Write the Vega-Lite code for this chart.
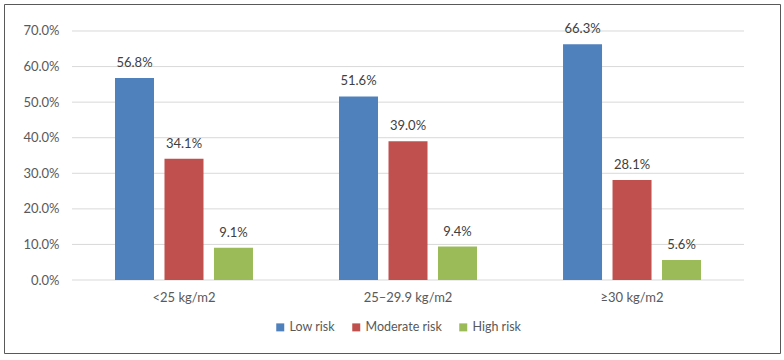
{
  "$schema": "https://vega.github.io/schema/vega-lite/v6.json",
  "width": 776,
  "height": 349,
  "autosize": {"type": "none"},
  "padding": {"left": 4, "top": 4, "right": 4, "bottom": 7},
  "background": "white",
  "view": {"stroke": "#595959", "strokeWidth": 1},
  "config": {
    "font": "Lato",
    "axis": {"labelFont": "Lato", "labelFontSize": 13, "labelColor": "#595959"},
    "legend": {"labelFont": "Lato", "labelFontSize": 12.5, "labelColor": "#595959"}
  },
  "datasets": {
    "bars": [
      {"bmi": "<25 kg/m2", "risk": "Low risk", "value": 0.568},
      {"bmi": "<25 kg/m2", "risk": "Moderate risk", "value": 0.341},
      {"bmi": "<25 kg/m2", "risk": "High risk", "value": 0.091},
      {"bmi": "25–29.9 kg/m2", "risk": "Low risk", "value": 0.516},
      {"bmi": "25–29.9 kg/m2", "risk": "Moderate risk", "value": 0.390},
      {"bmi": "25–29.9 kg/m2", "risk": "High risk", "value": 0.094},
      {"bmi": "≥30 kg/m2", "risk": "Low risk", "value": 0.663},
      {"bmi": "≥30 kg/m2", "risk": "Moderate risk", "value": 0.281},
      {"bmi": "≥30 kg/m2", "risk": "High risk", "value": 0.056}
    ],
    "grid": [
      {"tick": 0}, {"tick": 0.1}, {"tick": 0.2}, {"tick": 0.3},
      {"tick": 0.4}, {"tick": 0.5}, {"tick": 0.6}, {"tick": 0.7}
    ]
  },
  "layer": [
    {
      "data": {"name": "grid"},
      "mark": {"type": "rule", "color": "#D9D9D9", "strokeWidth": 1},
      "encoding": {
        "y": {
          "field": "tick", "type": "quantitative",
          "axis": {"title": null, "orient": "left", "offset": -68, "values": [0, 0.1, 0.2, 0.3, 0.4, 0.5, 0.6, 0.7], "format": ".1%", "grid": false, "domain": false, "ticks": false, "labelPadding": 13}
        },
        "x": {
          "datum": "<25 kg/m2", "type": "nominal", "bandPosition": 0,
          "axis": {"title": null, "orient": "bottom", "offset": -73, "domain": false, "ticks": false, "labelPadding": 11, "labelAngle": 0, "bandPosition": 0.5, "labelAlign": "center"}
        },
        "x2": {"datum": "≥30 kg/m2", "bandPosition": 1}
      }
    },
    {
      "data": {"name": "bars"},
      "encoding": {
        "x": {
          "field": "bmi", "type": "nominal",
          "sort": ["<25 kg/m2", "25–29.9 kg/m2", "≥30 kg/m2"],
          "scale": {"domain": ["<25 kg/m2", "25–29.9 kg/m2", "≥30 kg/m2"], "paddingInner": 0, "paddingOuter": 0.232, "align": 0.654},
          "axis": {"title": null, "orient": "bottom", "offset": -73, "domain": false, "ticks": false, "labelPadding": 11, "labelAngle": 0, "bandPosition": 0.5, "labelAlign": "center"}
        },
        "xOffset": {
          "field": "risk", "type": "nominal",
          "sort": ["Low risk", "Moderate risk", "High risk"],
          "scale": {"domain": ["Low risk", "Moderate risk", "High risk"], "paddingInner": 0.212, "paddingOuter": 0.869}
        },
        "y": {
          "field": "value", "type": "quantitative",
          "scale": {"domain": [-0.2052, 0.7759], "nice": false, "zero": false},
          "axis": {"title": null, "orient": "left", "offset": -68, "values": [0, 0.1, 0.2, 0.3, 0.4, 0.5, 0.6, 0.7], "format": ".1%", "grid": false, "domain": false, "ticks": false, "labelPadding": 13}
        }
      },
      "layer": [
        {
          "mark": {"type": "bar"},
          "encoding": {
            "y2": {"datum": 0},
            "color": {
              "field": "risk", "type": "nominal",
              "sort": ["Low risk", "Moderate risk", "High risk"],
              "scale": {"domain": ["Low risk", "Moderate risk", "High risk"], "range": ["#4F81BD", "#C0504D", "#9BBB59"]},
              "legend": {"title": null, "orient": "none", "direction": "horizontal", "legendX": 270, "legendY": 317, "symbolType": "square", "symbolSize": 64, "symbolStrokeWidth": 0, "columnPadding": 15, "labelOffset": 3, "padding": 0}
            }
          }
        },
        {
          "mark": {"type": "text", "baseline": "bottom", "dy": -8, "fontSize": 13, "color": "#404040", "font": "Lato"},
          "encoding": {
            "text": {"field": "value", "type": "quantitative", "format": ".1%"}
          }
        }
      ]
    }
  ]
}
